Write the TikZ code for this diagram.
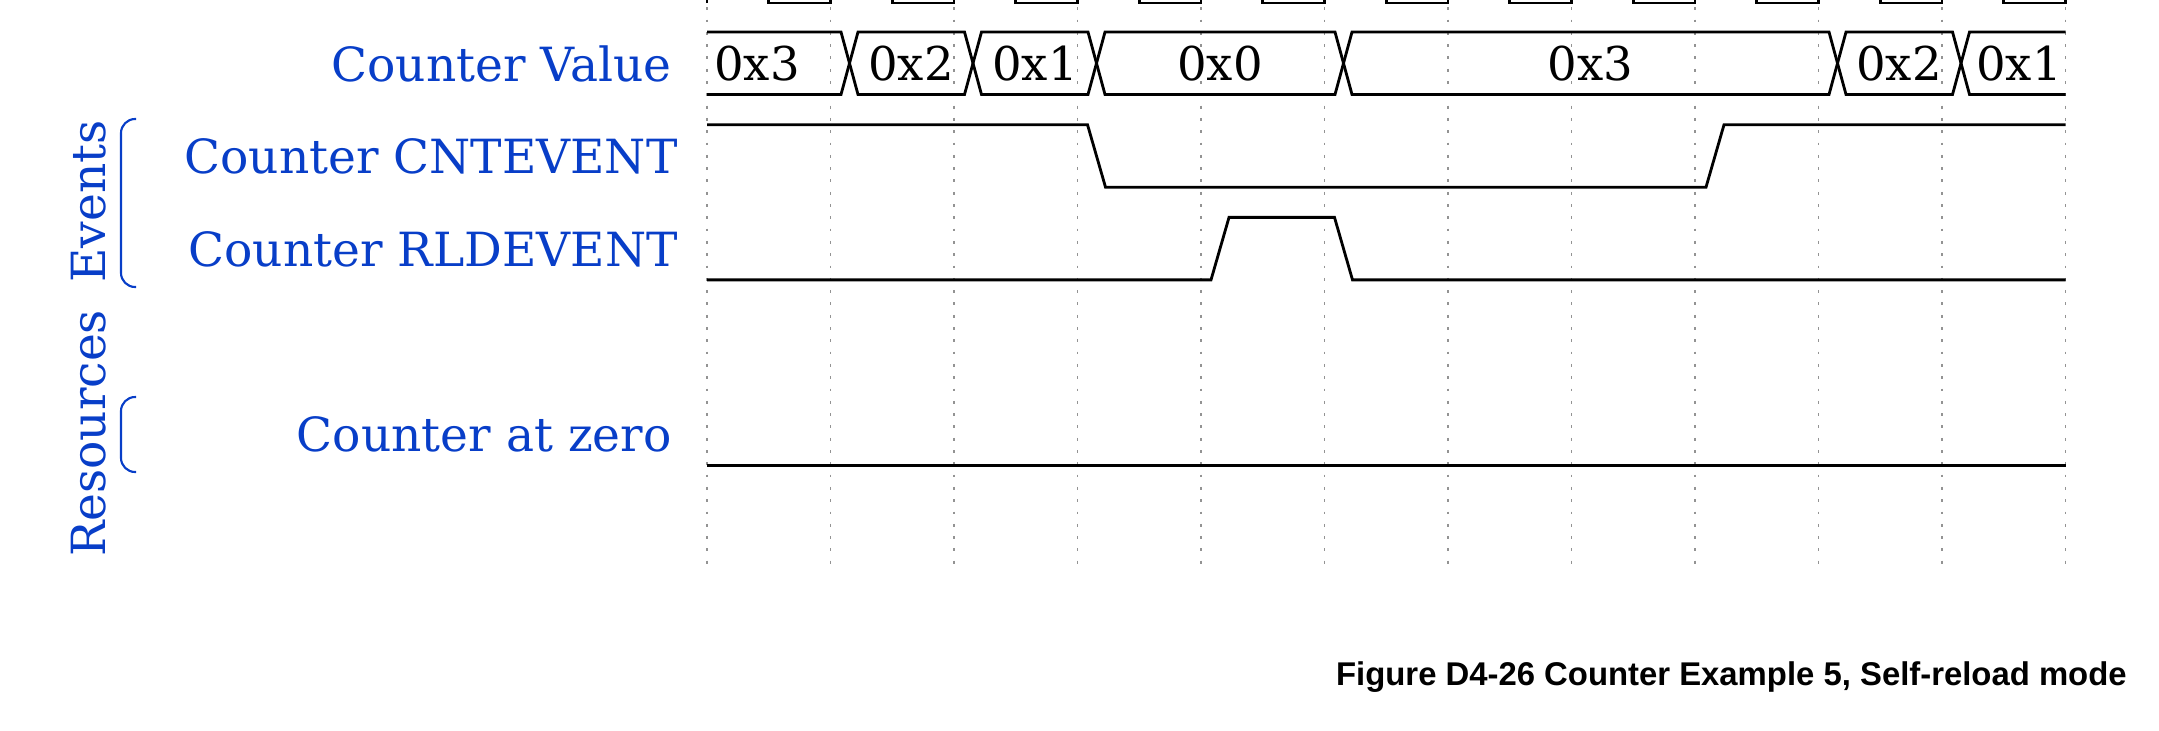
\documentclass[tikz,border=0pt]{standalone}
\usepackage{fontspec}
\setmainfont{DejaVu Serif}
\newfontfamily\captionfont{Liberation Sans}
\definecolor{labelblue}{RGB}{8,62,200}
\tikzset{
	sig/.style={line width=1.6pt},
	grid line/.style={gray!85, line width=0.8pt, dash pattern=on 1.6pt off 5.4pt},
	lbl/.style={text=labelblue, font=\fontsize{26.8}{30}\selectfont, inner sep=0pt},
	busval/.style={font=\fontsize{26.5}{30}\selectfont, inner sep=0pt, anchor=base},
	brace/.style={draw=labelblue, line width=1.2pt, rounded corners=8pt},
}
\begin{document}
\begin{tikzpicture}[x=0.02cm, y=-0.02cm]
	\useasboundingbox (0,0) rectangle (2159,730);
	\clip (0,0) rectangle (2159,730);
	\foreach \i in {0,...,11}
		\draw[grid line] ({707+123.5*\i},-5) -- ({707+123.5*\i},571);
	\draw[sig] (707,3) \foreach \i in {0,...,10} { -- ({707+123.5*\i},-61) -- ({768.75+123.5*\i},-61) -- ({768.75+123.5*\i},3) -- ({830.5+123.5*\i},3) } -- (2065.5,-61);
	\draw[sig] (707,32) -- (841,32) -- (849.5,63.25) -- (841,94.5) -- (707,94.5);
	\foreach \a/\b in {849.5/973, 973/1096.5, 1096.5/1343.5, 1343.5/1837.5, 1837.5/1961}
		\draw[sig] (\a,63.25) -- ({\a+8.5},32) -- ({\b-8.5},32) -- (\b,63.25) -- ({\b-8.5},94.5) -- ({\a+8.5},94.5) -- cycle;
	\draw[sig] (2065.5,32) -- (1969.5,32) -- (1961,63.25) -- (1969.5,94.5) -- (2065.5,94.5);
	\foreach \x/\v [count=\k] in {757/0x3, 911/0x2, 1035/0x1, 1220/0x0, 1590.5/0x3, 1899/0x2, 2019/0x1}
		\node[busval] (val\k) at (\x,80) {\v};
	\draw[sig] (707,124.7) -- (1087.5,124.7) -- (1105.5,187.2) -- (1706,187.2) -- (1724,124.7) -- (2065.5,124.7);
	\draw[sig] (707,279.9) -- (1211,279.9) -- (1229,217.4) -- (1334.5,217.4) -- (1352.5,279.9) -- (2065.5,279.9);
	\draw[sig] (707,465.3) -- (2065.5,465.3);
	\node[lbl, anchor=base east] (value) at (672,81) {Counter Value};
	\node[lbl, anchor=base east] (cntevent) at (678,173.7) {Counter CNTEVENT};
	\node[lbl, anchor=base east] (rldevent) at (678,266.4) {Counter RLDEVENT};
	\node[lbl, anchor=base east] (atzero) at (672,451.8) {Counter at zero};
	\node[lbl, rotate=90, anchor=base] (events) at (105,201.5) {Events};
	\node[lbl, rotate=90, anchor=base] (resources) at (105,433.4) {Resources};
	\draw[brace] (136,119) -- (121,119) -- (121,287) -- (136,287);
	\draw[brace] (136,397) -- (121,397) -- (121,472) -- (136,472);
	\node[font=\captionfont\bfseries\fontsize{18.7}{22}\selectfont, anchor=base east, inner sep=0pt] (caption) at (2127,685) {Figure D4-26 Counter Example 5, Self-reload mode};
\end{tikzpicture}
\end{document}
